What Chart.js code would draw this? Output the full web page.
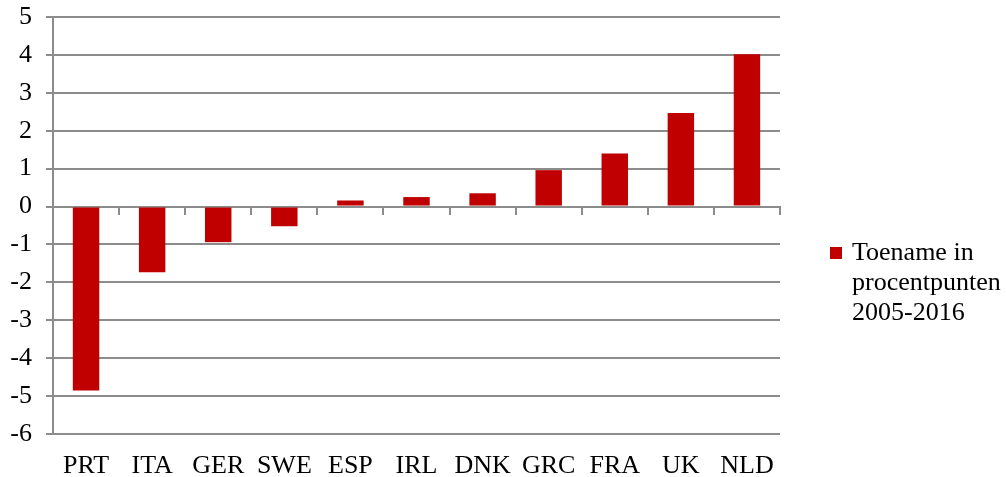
<!DOCTYPE html>
<html lang="nl">
<head>
    <meta charset="UTF-8">
    <title>Toename in procentpunten 2005-2016</title>
    <script src="https://cdn.jsdelivr.net/npm/chart.js"></script>
    <style>
        body {
            margin: 0;
            padding: 0;
            background-color: #fff;
            font-family: "Liberation Serif", serif;
        }

        #wrap {
            position: relative;
            width: 1006px;
            height: 477px;
        }

        #legend {
            position: absolute;
            left: 830px;
            top: 237px;
            font-size: 26px;
            line-height: 30px;
            color: #000;
        }

        #legend .box {
            position: absolute;
            left: 0;
            top: 10px;
            width: 12px;
            height: 12px;
        }

        #legend .text {
            margin-left: 22px;
        }
    </style>
</head>
<body>
    <div id="wrap">
        <canvas id="chart" width="1006" height="477"></canvas>
        <div id="legend"></div>
    </div>

    <script>
        const landen = ['PRT', 'ITA', 'GER', 'SWE', 'ESP', 'IRL', 'DNK', 'GRC', 'FRA', 'UK', 'NLD'];
        const toename = [-4.85, -1.73, -0.94, -0.52, 0.16, 0.25, 0.35, 0.96, 1.40, 2.47, 4.02];
        const serieNaam = ['Toename in', 'procentpunten', '2005-2016'];
        const kleur = '#C00000';
        const grijs = '#8c8c8c';

        const font = { family: '"Liberation Serif", serif', size: 26 };

        const chart = new Chart(document.getElementById('chart'), {
            type: 'bar',
            data: {
                labels: landen,
                datasets: [{
                    label: serieNaam.join(' '),
                    data: toename,
                    backgroundColor: kleur,
                    barPercentage: 0.4,
                    categoryPercentage: 1
                }]
            },
            options: {
                responsive: false,
                animation: false,
                layout: { padding: { top: 17, right: 226, left: 0, bottom: 0 } },
                plugins: {
                    legend: { display: false },
                    tooltip: { enabled: false }
                },
                scales: {
                    x: {
                        position: 'bottom',
                        grid: { display: false },
                        border: { display: false },
                        ticks: { color: '#000', font: font, padding: 9, maxRotation: 0, autoSkip: false },
                        afterFit: s => { s.height = 43; }
                    },
                    x2: {
                        type: 'category',
                        position: { y: 0 },
                        offset: true,
                        grid: { drawOnChartArea: false, drawTicks: true, tickLength: 7, offset: true, color: grijs, lineWidth: 2 },
                        border: { display: true, color: grijs, width: 2 },
                        ticks: { display: false },
                        afterFit: s => { s.height = 0; }
                    },
                    y: {
                        min: -6,
                        max: 5,
                        ticks: { stepSize: 1, color: '#000', font: font, padding: 14 },
                        grid: { color: grijs, lineWidth: 2, tickLength: 7 },
                        border: { display: true, color: grijs, width: 2 },
                        afterFit: s => {
                            s.width = 53;
                            s.paddingTop = 0;
                            s.paddingBottom = 0;
                        }
                    }
                }
            }
        });

        // legenda als gewone tekst naast de grafiek
        const legend = document.getElementById('legend');
        const box = document.createElement('div');
        box.className = 'box';
        box.style.backgroundColor = chart.data.datasets[0].backgroundColor;
        legend.appendChild(box);
        const txt = document.createElement('div');
        txt.className = 'text';
        txt.innerHTML = serieNaam.join('<br>');
        legend.appendChild(txt);
    </script>
</body>
</html>
